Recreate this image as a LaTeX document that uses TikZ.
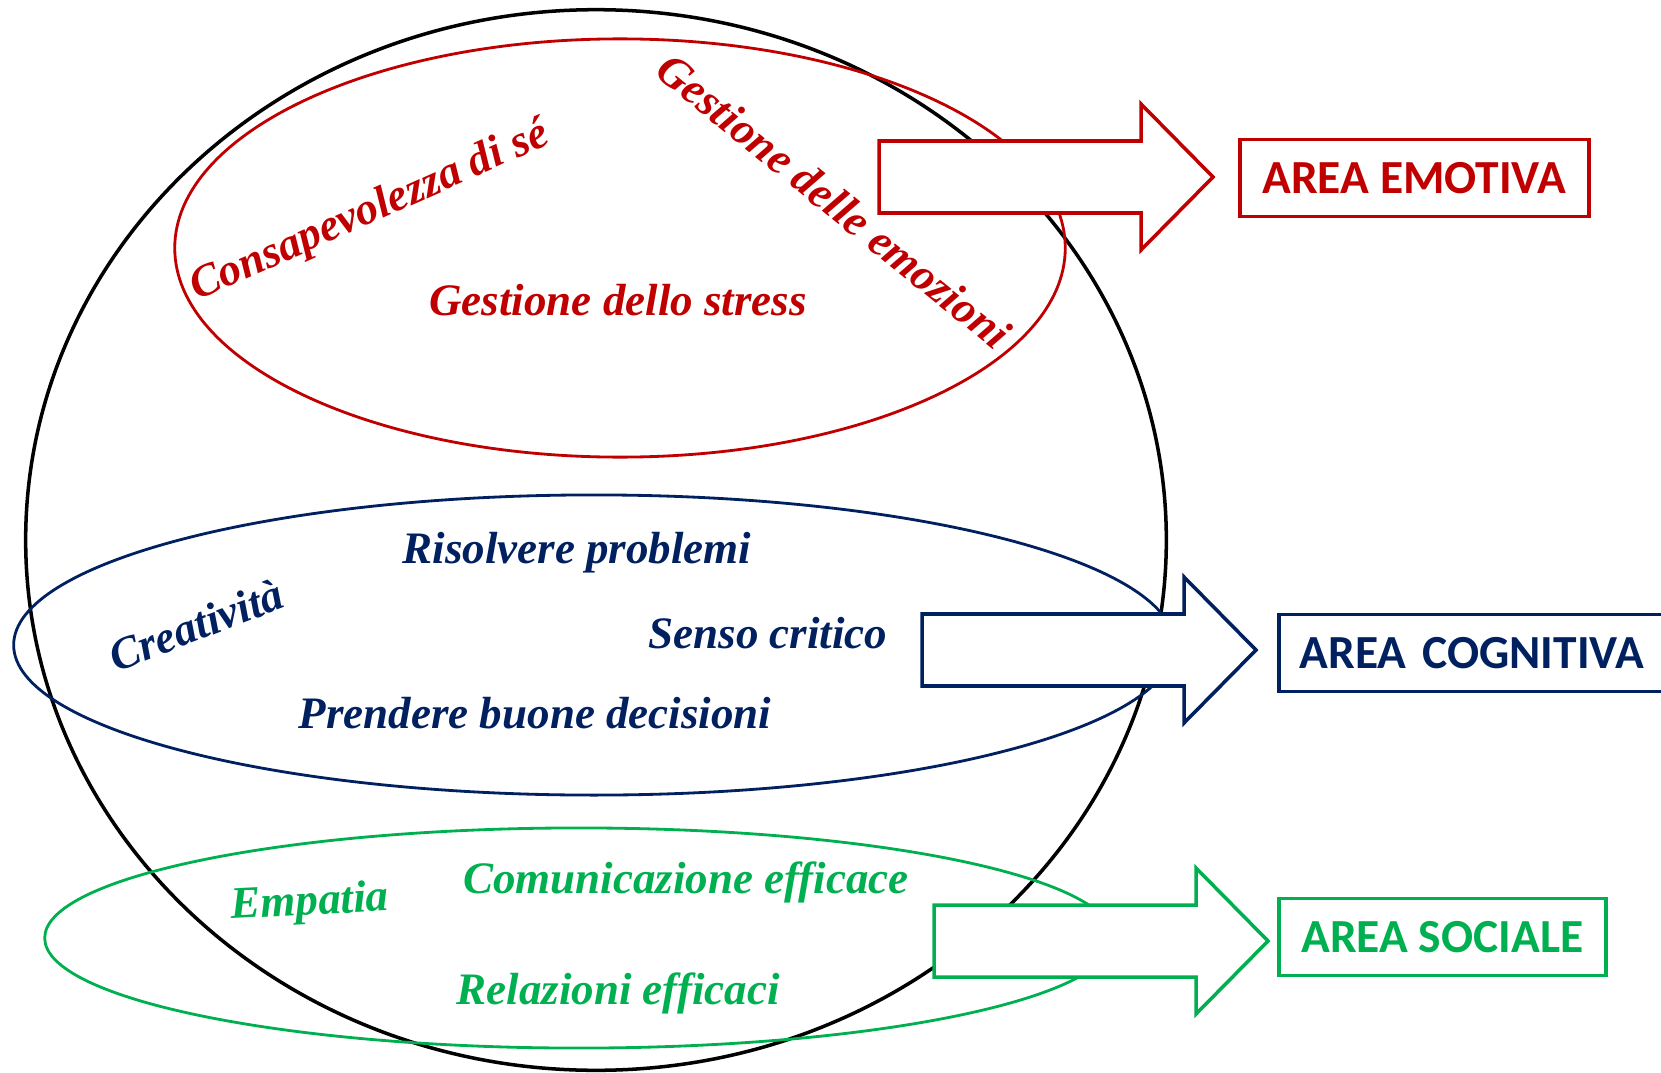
\documentclass[tikz,border=0pt]{standalone}
\usepackage{fontspec}
\setmainfont{Liberation Serif}
\newfontfamily\boxfont{Carlito}
\usepackage{tikz}
\usetikzlibrary{positioning}
\definecolor{emored}{HTML}{C00000}
\definecolor{cognavy}{HTML}{002060}
\definecolor{socgreen}{HTML}{00B050}

\tikzset{
  skill/.style={text=#1, inner sep=0, transform shape,
    font=\fontsize{12.8}{15}\selectfont\bfseries\itshape},
  areabox/.style={draw=#1, text=#1, line width=1pt, anchor=west,
    minimum height=0.77cm, font=\boxfont\fontsize{13.5}{16}\selectfont\bfseries},
}

\begin{document}
\begin{tikzpicture}[x=0.01cm, y=-0.01cm]

  % Page
  \useasboundingbox (0,0) rectangle (1661,1073);

  % Outer shape
  \draw[line width=1pt] (596,540) node (orig) {} ellipse [x radius=5.70cm, y radius=5.30cm];

  % Areas
  \draw[emored, line width=0.8pt] (620,248) ellipse [x radius=4.45cm, y radius=2.09cm];
  \draw[cognavy, line width=0.8pt] (594,645) ellipse [x radius=5.80cm, y radius=1.50cm];
  \draw[socgreen, line width=0.8pt] (579,938) ellipse [x radius=5.34cm, y radius=1.10cm];

  % Block arrows
  \foreach \ax/\ay/\col in {879/177/emored, 922/650/cognavy, 934/941/socgreen}
    \draw[\col, line width=1pt, fill=white] (\ax,\ay-36) -- ++(262,0) -- ++(0,-37)
      -- ++(72,73) -- ++(-72,73) -- ++(0,-37) -- ++(-262,0) -- cycle;

  % Labels
  \node[areabox=emored, minimum width=3.49cm] (emo) at (1238,178) {AREA EMOTIVA};
  \node[areabox=cognavy, text width=3.9cm, inner xsep=0.21cm] (cog) at (1277,653) {\mbox{AREA COGNITIVA}\hfill};
  \node[areabox=socgreen, minimum width=3.27cm] (soc) at (1277,937) {AREA SOCIALE};

  % Skills
  \node[skill=emored, rotate=24] (consap) at (370,212) {Consapevolezza di sé};
  \node[skill=emored, rotate=-39] (gestemo) at (834,201) {Gestione delle emozioni};
  \node[skill=emored] (stress) at (618,300) {Gestione dello stress};
  \node[skill=cognavy] (risolv) at (577,553) {Risolvere problemi};
  \node[skill=cognavy, rotate=21] (creat) at (196,625) {Creatività};
  \node[skill=cognavy] (senso) at (768,633) {Senso critico};
  \node[skill=cognavy] (prend) at (535,713) {Prendere buone decisioni};
  \node[skill=socgreen, rotate=3] (empat) at (310,904) {Empatia};
  \node[skill=socgreen] (comun) at (686,882) {Comunicazione efficace};
  \node[skill=socgreen] (relaz) at (618,993) {Relazioni efficaci};

\end{tikzpicture}
\end{document}
